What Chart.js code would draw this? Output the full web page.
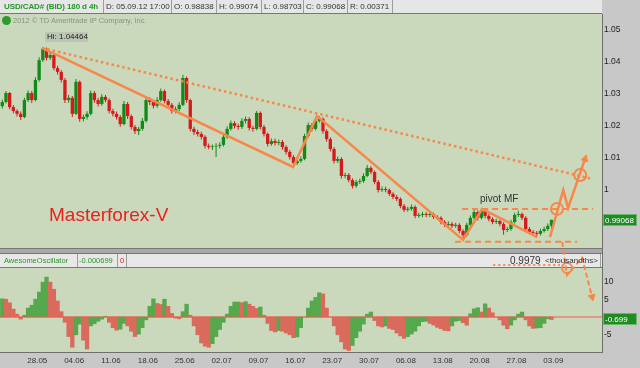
<!DOCTYPE html>
<html><head><meta charset="utf-8">
<script src="https://cdn.jsdelivr.net/npm/chart.js@4.4.1/dist/chart.umd.min.js"></script>
<style>
body{margin:0;background:#c8c8c8}
#wrap{position:relative;width:640px;height:368px;overflow:hidden}
#c{position:absolute;left:0;top:0}
.t{position:absolute;white-space:nowrap;font-family:'Liberation Sans',Arial,sans-serif;font-size:8px;line-height:10px;color:#333;pointer-events:none}
</style></head>
<body>
<div id="wrap">
<canvas id="c" width="640" height="368"></canvas>
<div class="t" style="left:4px;top:2px;font-weight:bold;font-size:8px;letter-spacing:-0.1px;color:#1f9a24">USD/CAD# (BID) 180 d 4h</div>
<div class="t" style="left:106px;top:2px">D: 05.09.12 17:00</div>
<div class="t" style="left:174px;top:2px">O: 0.98838</div>
<div class="t" style="left:219px;top:2px">H: 0.99074</div>
<div class="t" style="left:264px;top:2px">L: 0.98703</div>
<div class="t" style="left:306px;top:2px">C: 0.99068</div>
<div class="t" style="left:350px;top:2px">R: 0.00371</div>
<div class="t" style="left:2px;top:16px;width:9px;height:9px;border-radius:50%;background:#2d9b2d"></div>
<div class="t" style="left:13px;top:16px;font-size:7.5px;color:#879480">2012 © TD Ameritrade IP Company, Inc.</div>
<div class="t" style="left:45px;top:32px;width:41px;height:10px;padding-left:2px;background:#bcc6b4;color:#222">Hi: 1.04464</div>
<div class="t" style="left:49px;top:205px;font-size:19px;line-height:19px;color:#e8231d">Masterforex-V</div>
<div class="t" style="left:480px;top:194px;font-size:10px;color:#333">pivot MF</div>
<div class="t" style="left:4px;top:256px;font-size:7.5px;color:#2a962a">AwesomeOscillator</div>
<div class="t" style="left:79px;top:256px;font-size:7.5px;color:#2a962a">-0.000699</div>
<div class="t" style="left:120px;top:256px;font-size:7.5px;color:#e02020">0</div>
<div class="t" style="left:510px;top:256px;font-size:10px;color:#333">0.9979</div>
<div class="t" style="left:545px;top:256px;color:#333">&lt;thousandths&gt;</div>
</div>
<script>
// ---------- data ----------
const dateLabels = ['28.05','04.06','11.06','18.06','25.06','02.07','09.07','16.07','23.07','30.07','06.08','13.08','20.08','27.08','03.09'];
const barsPerWeek = 10; // 12h bars, 5 trading days
const priceTicks = [1.05, 1.04, 1.03, 1.02, 1.01, 1];
const oscTicks = [10, 5, -5];
const firstOpen = 1.0262;
const candleClose = [
 1.0275,1.0303,1.0259,1.0247,1.0238,1.0228,1.0281,1.0303,1.0281,1.0344,
 1.0406,1.0441,1.0413,1.0422,1.0381,1.0369,1.0344,1.0281,1.0288,1.0238,
 1.0338,1.0222,1.0228,1.0238,1.0303,1.0281,1.0269,1.0291,1.0281,1.0247,
 1.0238,1.0228,1.0206,1.0269,1.0231,1.0197,1.0184,1.0191,1.0216,1.0281,
 1.0275,1.0263,1.0281,1.0309,1.0278,1.0266,1.0247,1.0253,1.0266,1.0350,
 1.0281,1.0191,1.0181,1.0175,1.0166,1.0138,1.0134,1.0136,1.0138,1.0141,
 1.0166,1.0191,1.0209,1.0200,1.0197,1.0216,1.0222,1.0194,1.0191,1.0241,
 1.0197,1.0175,1.0144,1.0153,1.0147,1.0150,1.0134,1.0119,1.0103,1.0084,
 1.0091,1.0097,1.0169,1.0203,1.0191,1.0216,1.0222,1.0184,1.0159,1.0128,
 1.0091,1.0097,1.0044,1.0047,1.0031,1.0013,1.0025,1.0028,1.0044,1.0069,
 1.0056,1.0025,1.0000,1.0003,1.0000,0.9988,0.9978,0.9972,0.9950,0.9938,
 0.9941,0.9947,0.9919,0.9922,0.9925,0.9922,0.9925,0.9916,0.9913,0.9900,
 0.9891,0.9894,0.9888,0.9891,0.9872,0.9859,0.9891,0.9913,0.9931,0.9913,
 0.9934,0.9919,0.9909,0.9900,0.9903,0.9894,0.9875,0.9878,0.9900,0.9922,
 0.9925,0.9913,0.9878,0.9869,0.9866,0.9863,0.9872,0.9878,0.9888,0.99068];
const candleHigh = [
 1.0283,1.0309,1.0306,1.0266,1.0252,1.0245,1.0288,1.0311,1.0309,1.0352,
 1.0415,1.0446,1.0445,1.0431,1.0428,1.0388,1.0375,1.0350,1.0297,1.0294,
 1.0347,1.0342,1.0236,1.0246,1.0311,1.0309,1.0288,1.0299,1.0297,1.0286,
 1.0254,1.0245,1.0234,1.0278,1.0275,1.0236,1.0203,1.0198,1.0225,1.0290,
 1.0289,1.0281,1.0290,1.0317,1.0314,1.0284,1.0272,1.0261,1.0274,1.0360,
 1.0355,1.0285,1.0198,1.0188,1.0182,1.0171,1.0145,1.0142,1.0146,1.0149,
 1.0173,1.0199,1.0217,1.0215,1.0207,1.0224,1.0230,1.0227,1.0201,1.0247,
 1.0245,1.0203,1.0180,1.0161,1.0160,1.0158,1.0156,1.0140,1.0125,1.0109,
 1.0099,1.0105,1.0176,1.0211,1.0209,1.0224,1.0231,1.0227,1.0190,1.0165,
 1.0134,1.0105,1.0102,1.0054,1.0053,1.0037,1.0032,1.0036,1.0052,1.0078,
 1.0074,1.0061,1.0031,1.0011,1.0010,1.0005,0.9993,0.9984,0.9977,0.9956,
 0.9948,0.9955,0.9952,0.9929,0.9932,0.9931,0.9933,0.9930,0.9921,0.9918,
 0.9906,0.9902,0.9900,0.9898,0.9896,0.9877,0.9898,0.9920,0.9938,0.9936,
 0.9944,0.9940,0.9925,0.9915,0.9910,0.9908,0.9899,0.9885,0.9907,0.9929,
 0.9935,0.9930,0.9918,0.9884,0.9875,0.9872,0.9879,0.9885,0.9895,0.99074];
const candleLow = [
 1.0255,1.0270,1.0252,1.0240,1.0230,1.0219,1.0224,1.0275,1.0272,1.0277,
 1.0338,1.0400,1.0405,1.0406,1.0374,1.0361,1.0336,1.0272,1.0273,1.0228,
 1.0234,1.0213,1.0215,1.0220,1.0233,1.0273,1.0261,1.0263,1.0274,1.0240,
 1.0230,1.0220,1.0198,1.0202,1.0222,1.0189,1.0175,1.0172,1.0185,1.0211,
 1.0266,1.0255,1.0257,1.0276,1.0271,1.0258,1.0239,1.0240,1.0246,1.0262,
 1.0273,1.0183,1.0172,1.0167,1.0158,1.0130,1.0127,1.0125,1.0103,1.0130,
 1.0136,1.0160,1.0185,1.0192,1.0188,1.0191,1.0208,1.0186,1.0182,1.0187,
 1.0189,1.0167,1.0136,1.0138,1.0139,1.0140,1.0126,1.0111,1.0095,1.0075,
 1.0078,1.0085,1.0093,1.0163,1.0183,1.0186,1.0210,1.0176,1.0151,1.0120,
 1.0083,1.0084,1.0036,1.0037,1.0024,1.0005,1.0007,1.0019,1.0022,1.0040,
 1.0049,1.0018,0.9992,0.9994,0.9993,0.9981,0.9971,0.9965,0.9943,0.9931,
 0.9932,0.9935,0.9912,0.9913,0.9915,0.9915,0.9916,0.9909,0.9906,0.9893,
 0.9884,0.9885,0.9881,0.9882,0.9865,0.9844,0.9854,0.9886,0.9907,0.9905,
 0.9908,0.9912,0.9902,0.9893,0.9894,0.9887,0.9860,0.9869,0.9873,0.9895,
 0.9916,0.9906,0.9871,0.9862,0.9859,0.9853,0.9858,0.9867,0.9872,0.98703];
const awesomeOsc = [
 5.1,5.0,4.0,2.2,0.8,-0.6,0.5,2.5,3.3,5.0,
 7.0,9.8,11.2,9.8,7.8,4.5,1.5,-1.5,-5.5,-8.5,
 -5.0,-2.0,-6.5,-9.0,-2.5,-1.9,-1.2,-0.6,0.2,-1.5,
 -3.0,-3.7,-3.4,-1.8,-2.5,-4.0,-5.5,-4.8,-3.0,-0.8,
 3.0,5.1,3.8,3.5,5.0,3.0,1.0,-0.3,-0.5,1.5,
 3.6,0.5,-2.5,-5.0,-7.3,-8.2,-8.5,-7.5,-5.5,-3.5,
 -1.5,0.8,3.0,4.2,4.2,4.0,4.3,3.6,3.0,2.4,
 2.8,0.5,-1.8,-3.8,-4.2,-3.8,-4.0,-4.5,-5.0,-5.8,
 -5.6,-3.0,0.0,2.5,4.5,5.5,6.8,6.5,2.5,0.0,
 -2.5,-5.0,-7.0,-9.0,-9.4,-8.0,-5.8,-4.0,-2.0,0.8,
 1.4,-1.0,-2.5,-2.8,-2.5,-3.2,-3.5,-4.5,-5.3,-6.0,
 -5.5,-4.8,-4.0,-2.5,-1.3,-1.2,-1.8,-2.3,-2.9,-3.3,
 -3.8,-3.9,-2.5,-1.2,-1.0,-1.6,-2.3,0.9,2.3,2.6,
 1.4,3.7,2.5,1.2,0.0,-0.8,-2.3,-3.3,-2.3,-0.8,
 0.8,1.4,-0.8,-2.5,-3.2,-3.1,-3.0,-1.8,-0.5,-0.699];
// hand-drawn analysis lines (bar index, price)
const trendZigzag = [{x:10.77,y:1.0444},{x:78.89,y:1.0072},{x:85.4,y:1.0231},{x:125.0,y:0.9844},{x:130.2,y:0.9941},{x:145.1,y:0.9853}];
const resistanceDotted = [{x:10.77,y:1.0444},{x:160.3,y:1.0034}];
const pivotLevel = [{x:124.75,y:0.9941},{x:160.3,y:0.9941}];
const supportLevel = [{x:122.85,y:0.9838},{x:156.0,y:0.9838}];
const bullPath = [{x:148.6,y:0.9853},{x:152.2,y:1.0000},{x:153.5,y:0.9944},{x:158.1,y:1.0097}];
const bullCircles = [{x:150.5,y:0.9941},{x:156.8,y:1.0047}];
const bearPath = [{x:151.9,y:0.9838},{x:153.2,y:0.9734},{x:157.3,y:0.9788},{x:160.0,y:0.9666}];
const bearCircle = [{x:153.2,y:0.9756}];
const headerDots = [{x:133.2,y:0.9766},{x:151.3,y:0.9766}];

// ---------- build ----------
const opens = candleClose.map((c,i)=> i===0 ? firstOpen : candleClose[i-1]);
const isUp = i => candleClose[i] >= opens[i];
const UP='#138a18', DN='#d41a1a', OR='#f7874a';
const xMin=-0.62, xMax=162.7;
const tickPositions = dateLabels.map((_,k)=> barsPerWeek-0.5 + barsPerWeek*k);

const wickData = candleClose.map((c,i)=>({x:i,y:[candleLow[i],candleHigh[i]]}));
const bodyData = candleClose.map((c,i)=>({x:i,y:[opens[i],c]}));
const oscData = awesomeOsc.map((v,i)=>({x:i,y:v}));

const lineDs = (data, o) => Object.assign({type:'line', data, yAxisID:'y', borderColor:OR, borderWidth:2.5, pointRadius:0, tension:0, fill:false, order:0}, o);
const arrowHead = (data, rot) => ({type:'line', data, yAxisID:'y', showLine:false, order:0, clip:false,
  pointStyle:'triangle', rotation:rot, backgroundColor:OR, borderColor:OR, borderWidth:1,
  pointRadius: ctx => ctx.dataIndex === data.length-1 ? 4 : 0});

Chart.defaults.font.family = "'Liberation Sans', Arial, sans-serif";

const bgPlugin = {
  id:'bg',
  beforeDraw(chart){
    const c = chart.ctx, ys = chart.scales.y, y2 = chart.scales.y2, ca = chart.chartArea;
    c.save();
    c.fillStyle='#c8c8c8'; c.fillRect(0,0,chart.width,chart.height);
    c.fillStyle='#cad9bc'; c.fillRect(ca.left, ys.top, ca.right-ca.left, ys.bottom-ys.top);
    c.fillStyle='#cad9bc'; c.fillRect(ca.left, y2.top+20, ca.right-ca.left, y2.bottom-y2.top-20);
    c.fillStyle='#a9a9a9'; c.fillRect(ca.left, ys.bottom, ca.right, 6);
    c.fillStyle='#e8e8e8'; c.fillRect(ca.left, ys.bottom+6, ca.right, 13);
    c.fillStyle='#e6e6e6'; c.fillRect(0,0,ca.right,13);
    c.strokeStyle='#777'; c.lineWidth=1;
    c.beginPath();
    c.moveTo(0,13.5); c.lineTo(ca.right,13.5);
    c.moveTo(0,ys.bottom+0.5); c.lineTo(ca.right,ys.bottom+0.5);
    c.moveTo(0,ys.bottom+5.5); c.lineTo(ca.right,ys.bottom+5.5);
    c.moveTo(0,ys.bottom+19.5); c.lineTo(ca.right,ys.bottom+19.5);
    c.stroke();
    c.strokeStyle='#9d9d9d';
    c.beginPath();
    [103,171,216,261,303,347,392].forEach(x=>{c.moveTo(x+0.5,0); c.lineTo(x+0.5,13);});
    [77,117,126,600].forEach(x=>{c.moveTo(x+0.5,ys.bottom+6); c.lineTo(x+0.5,ys.bottom+19);});
    c.stroke();
    c.restore();
  },
  afterDraw(chart){
    const c = chart.ctx;
    const box = (y, txt) => {
      c.fillStyle='#1f8b22'; c.fillRect(603, Math.round(y)-6, 34, 12);
      c.strokeStyle='#67b867'; c.lineWidth=1; c.strokeRect(603.5, Math.round(y)-5.5, 33, 11);
      c.fillStyle='#fff'; c.font="8px 'Liberation Sans', Arial"; c.textBaseline='middle'; c.textAlign='left';
      c.fillText(txt, 605, Math.round(y)+0.5);
    };
    const lastC = candleClose[candleClose.length-1];
    const lastO = awesomeOsc[awesomeOsc.length-1];
    c.save();
    box(chart.scales.y.getPixelForValue(lastC), lastC.toFixed(5));
    box(chart.scales.y2.getPixelForValue(lastO), lastO.toFixed(3));
    c.restore();
  }
};

new Chart(document.getElementById('c'), {
  type:'bar',
  data:{ datasets:[
    lineDs(trendZigzag, {}),
    lineDs(resistanceDotted, {borderWidth:2.5, borderDash:[2.5,3]}),
    lineDs(pivotLevel, {borderWidth:2, borderDash:[6,4]}),
    lineDs(supportLevel, {borderWidth:2, borderDash:[6,4]}),
    lineDs(bullPath, {}),
    arrowHead(bullPath, 19),
    lineDs(bullCircles, {showLine:false, pointRadius:6, pointStyle:'circle', pointBorderWidth:2, pointBorderColor:OR, pointBackgroundColor:'rgba(0,0,0,0)'}),
    lineDs(bearPath, {borderWidth:2, borderDash:[5,3], clip:false}),
    arrowHead(bearPath, 166),
    lineDs(bearCircle, {showLine:false, clip:false, pointRadius:5, pointStyle:'circle', pointBorderWidth:2, pointBorderColor:OR, pointBackgroundColor:'rgba(0,0,0,0)'}),
    lineDs(headerDots, {borderWidth:2, borderDash:[2,3], clip:false}),
    {type:'line', data:[{x:xMin,y:0},{x:xMax,y:0}], yAxisID:'y2', borderColor:'#ee5c4a', borderWidth:1, pointRadius:0, order:1},
    {type:'bar', data:oscData, yAxisID:'y2', grouped:false, barPercentage:1, categoryPercentage:1, borderWidth:0, order:3,
      backgroundColor: ctx => { const i=ctx.dataIndex; return (i===0 || awesomeOsc[i]>=awesomeOsc[i-1]) ? '#56a84c' : '#da6b5c'; }},
    {type:'bar', data:bodyData, yAxisID:'y', grouped:false, barPercentage:0.9, categoryPercentage:1, borderWidth:0, order:4,
      backgroundColor: ctx => isUp(ctx.dataIndex) ? UP : DN},
    {type:'bar', data:wickData, yAxisID:'y', grouped:false, maxBarThickness:1, borderWidth:0, order:5,
      backgroundColor: ctx => isUp(ctx.dataIndex) ? UP : DN}
  ]},
  options:{
    responsive:false, animation:false, devicePixelRatio:1,
    layout:{padding:{top:14,left:0,right:0,bottom:0}, autoPadding:false},
    plugins:{legend:{display:false}, tooltip:{enabled:false}},
    scales:{
      x:{type:'linear', min:xMin, max:xMax, offset:false,
        grid:{display:false, drawTicks:false}, border:{display:true,color:'#6f6f6f'},
        afterBuildTicks: s => { s.ticks = tickPositions.map(v=>({value:v})); },
        afterFit: s => { s.height = 16; },
        ticks:{autoSkip:false, maxRotation:0, padding:4, color:'#333', font:{size:8}, callback:(v,i)=>dateLabels[i]}},
      y:{type:'linear', position:'right', stack:'pane', stackWeight:234, min:0.981875, max:1.055,
        grid:{display:false, drawTicks:false}, border:{display:true,color:'#6f6f6f'},
        afterBuildTicks: s => { s.ticks = priceTicks.map(v=>({value:v})); },
        afterFit: s => { s.width = 38; },
        ticks:{padding:2, color:'#222', font:{size:8.5}, callback:v => v===1 ? '1' : v.toFixed(2)}},
      y2:{type:'linear', position:'right', stack:'pane', stackWeight:104, min:-9.83, max:19.38,
        grid:{display:false, drawTicks:false}, border:{display:true,color:'#6f6f6f'},
        afterBuildTicks: s => { s.ticks = oscTicks.map(v=>({value:v})); },
        afterFit: s => { s.width = 38; },
        ticks:{padding:2, color:'#222', font:{size:8.5}, callback:v => String(v)}}
    }
  },
  plugins:[bgPlugin]
});
</script>
</body></html>
